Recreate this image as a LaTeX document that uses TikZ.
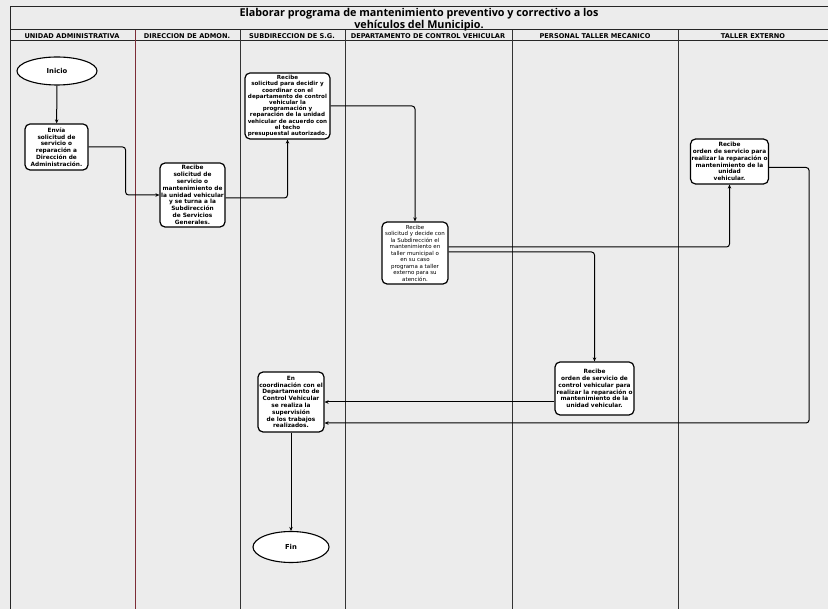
\documentclass[tikz,border=0pt]{standalone}
\usepackage{fontspec}
\setmainfont{DejaVu Sans}
\newfontfamily\titlefont{Open Sans}
\usetikzlibrary{arrows.meta,shapes.geometric,calc}
\definecolor{paper}{RGB}{236,236,236}
\definecolor{lanered}{RGB}{125,45,55}
\begin{document}
\begin{tikzpicture}[x=1pt,y=-1pt,
  box/.style={draw, line width=1.2pt, rounded corners=5pt, fill=white, align=center, inner sep=1pt,
    font=\bfseries\fontsize{5.8}{6.8}\selectfont},
  term/.style={ellipse, draw, line width=1.1pt, fill=white, inner sep=0pt,
    font=\bfseries\fontsize{6.8}{8}\selectfont},
  conn/.style={line width=1pt, rounded corners=3pt, -{Stealth[length=4pt,width=3.5pt]}},
  lane/.style={line width=0.8pt, draw=black!80},
  frame/.style={line width=1pt, draw=black!85},
  hdr/.style={font=\bfseries\fontsize{6.6}{7}\selectfont, inner sep=0pt}]

\fill[paper] (0,0) rectangle (828,609);
\useasboundingbox (0,0) rectangle (828,609);

% frame and header
\draw[frame] (10,609) -- (10,7) -- (828,7);
\draw[frame] (10,30) -- (828,30);
\draw[frame] (10,41) -- (828,41);
\draw[lane, draw=lanered] (135,30) -- (135,609);
\draw[lane] (240,30) -- (240,609);
\draw[lane] (345,30) -- (345,609);
\draw[lane] (512,30) -- (512,609);
\draw[lane] (678,30) -- (678,609);

\node[font=\titlefont\bfseries\fontsize{10.8}{9}\selectfont, align=center, inner sep=0pt] (title) at (419,20)
  {Elaborar programa de mantenimiento preventivo y correctivo a los\\vehículos del Municipio.};

\node[hdr] (h1) at (72,36) {UNIDAD ADMINISTRATIVA};
\node[hdr] (h2) at (187,36) {DIRECCION DE ADMON.};
\node[hdr] (h3) at (292,36) {SUBDIRECCION DE S.G.};
\node[hdr] (h4) at (428,36) {DEPARTAMENTO DE CONTROL VEHICULAR};
\node[hdr] (h5) at (595,36) {PERSONAL TALLER MECANICO};
\node[hdr] (h6) at (753,36) {TALLER EXTERNO};

% nodes
\node[term, minimum width=80, minimum height=28] (inicio) at (57,71) {Inicio};

\node[box, minimum width=63, minimum height=46] (envia) at (56.5,147)
  {Envía\\solicitud de\\servicio o\\reparación a\\Dirección de\\Administración.};

\node[box, minimum width=65, minimum height=64] (recibe2) at (192.5,195)
  {Recibe\\solicitud de\\servicio o\\mantenimiento de\\la unidad vehicular\\y se turna a la\\Subdirección\\de Servicios\\Generales.};

\node[box, minimum width=85, minimum height=66, font=\bfseries\fontsize{5.6}{6.2}\selectfont] (recibe3) at (287.5,106)
  {Recibe\\solicitud para decidir y\\coordinar con el\\departamento de control\\vehicular la\\programación y\\reparación de la unidad\\vehicular de acuerdo con\\el techo\\presupuestal autorizado.};

\node[box, minimum width=66, minimum height=62, font=\mdseries\fontsize{5.5}{6.5}\selectfont] (decide) at (415,253)
  {Recibe\\solicitud y decide con\\la Subdirección el\\mantenimiento en\\taller municipal o\\en su caso\\programa a taller\\externo para su\\atención.};

\node[box, minimum width=75, minimum height=45] (taller) at (729.5,161.5)
  {Recibe\\orden de servicio para\\realizar la reparación o\\mantenimiento de la\\unidad\\vehicular.};

\node[box, minimum width=79, minimum height=53] (orden) at (594.5,388.5)
  {Recibe\\orden de servicio de\\control vehicular para\\realizar la reparación o\\mantenimiento de la\\unidad vehicular.};

\node[box, minimum width=66, minimum height=60] (superv) at (291,402)
  {En\\coordinación con el\\Departamento de\\Control Vehicular\\se realiza la\\supervisión\\de los trabajos\\realizados.};

\node[term, minimum width=76, minimum height=31] (fin) at (291,547) {Fin};

% connectors
\draw[conn] (inicio) -- (envia);
\draw[conn] (envia.east) -- ++(37,0) |- (recibe2.west);
\draw[conn] ([yshift=-3pt]recibe2.east) -| (recibe3.south);
\draw[conn] (recibe3.east) -| (decide.north);
\draw[conn] ([yshift=6pt]decide.east) -| (taller.south);
\draw[conn] ([yshift=1pt]decide.east) -| (orden.north);
\draw[conn] ([yshift=-6pt]taller.east) -- ++(40,0) |- ([yshift=-21pt]superv.east);
\draw[conn] (orden.west |- superv.east) -- (superv.east);
\draw[conn] (superv) -- (fin);
\end{tikzpicture}
\end{document}
